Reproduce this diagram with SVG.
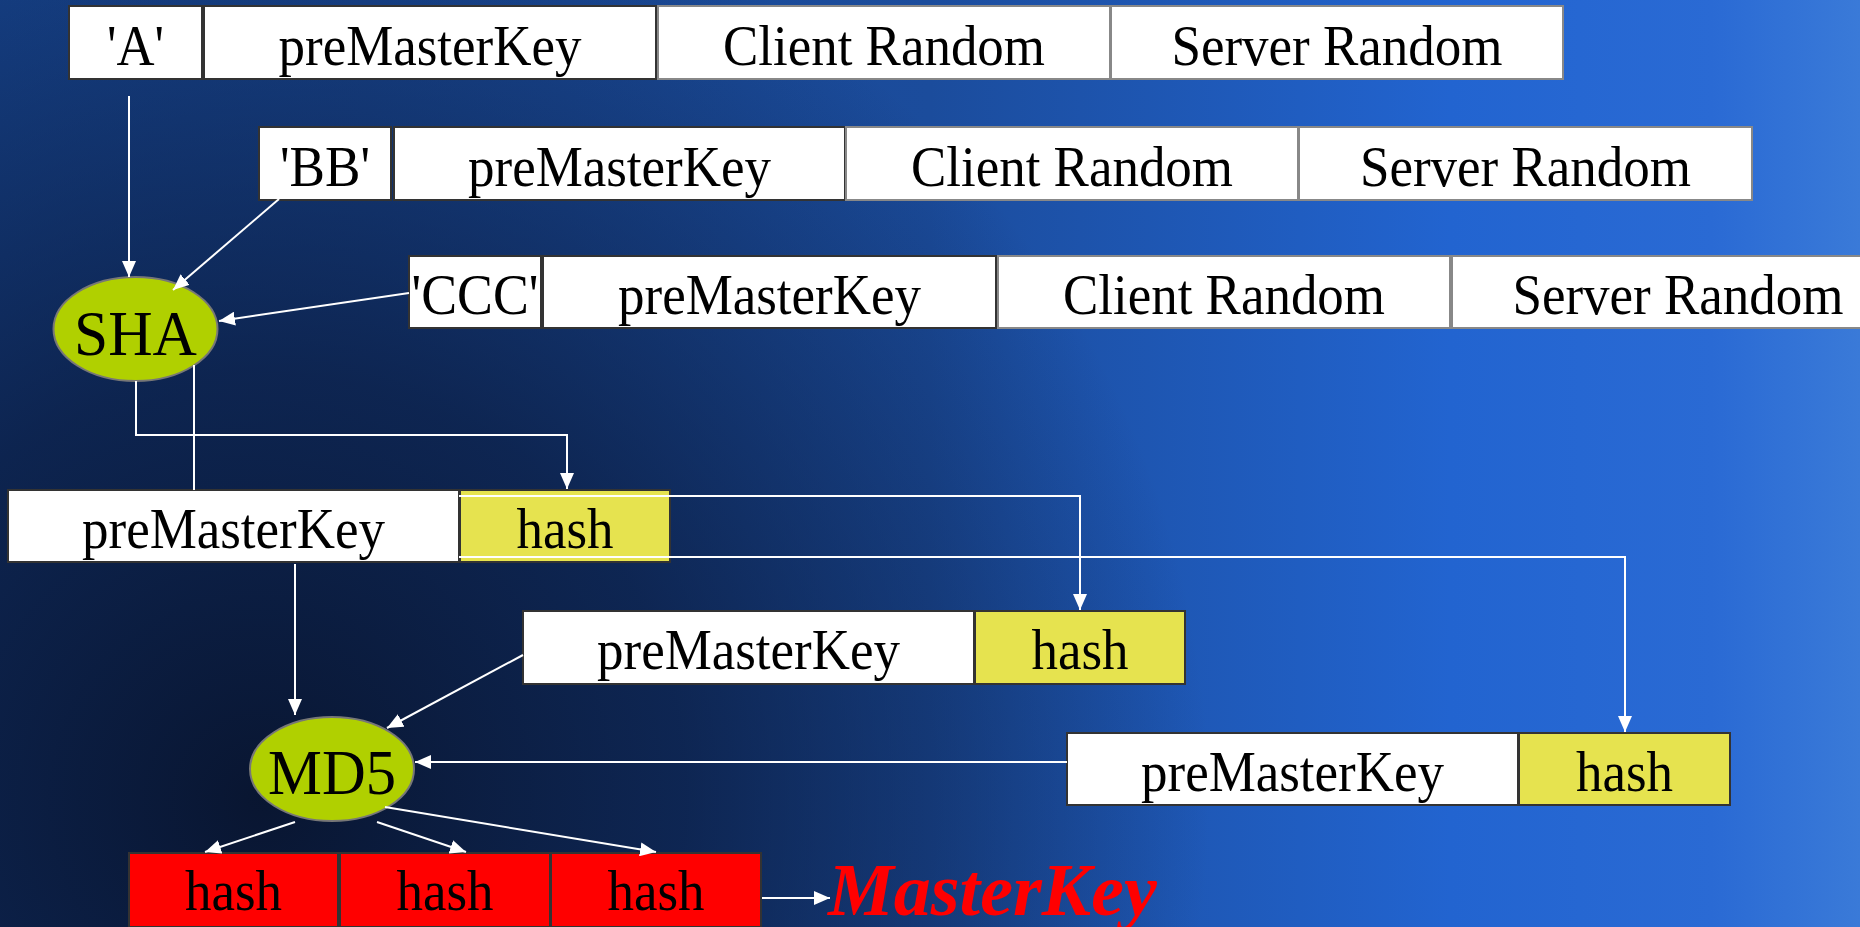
<svg xmlns="http://www.w3.org/2000/svg" width="1860" height="927" viewBox="0 0 1860 927">
  <defs>
    <linearGradient id="bgH" x1="0" y1="0" x2="1" y2="0">
      <stop offset="0" stop-color="#16428a"/>
      <stop offset="0.5" stop-color="#1b4c9c"/>
      <stop offset="0.78" stop-color="#2264d0"/>
      <stop offset="0.92" stop-color="#2a6ad4"/>
      <stop offset="1" stop-color="#3a7ad8"/>
    </linearGradient>
    <radialGradient id="bgDark" gradientUnits="userSpaceOnUse" cx="260" cy="800" r="950">
      <stop offset="0" stop-color="#08132c" stop-opacity="0.95"/>
      <stop offset="0.45" stop-color="#0a1a3c" stop-opacity="0.75"/>
      <stop offset="1" stop-color="#0a1a3c" stop-opacity="0"/>
    </radialGradient>
    <marker id="arr" markerUnits="userSpaceOnUse" markerWidth="16" markerHeight="14" refX="16" refY="7" orient="auto">
      <path d="M0,0 L16,7 L0,14 z" fill="#ffffff"/>
    </marker>
    <style>
      .t { font-family: "Liberation Serif", "Times New Roman", serif; font-size: 57px; fill: #000; text-anchor: middle; }
      .big { font-size: 63px; }
      .bw { fill: #ffffff; stroke: #333333; stroke-width: 2; }
      .bg { fill: #ffffff; stroke: #888888; stroke-width: 2; }
      .by { fill: #e6e34f; stroke: #333333; stroke-width: 2; }
      .br { fill: #ff0000; stroke: #333333; stroke-width: 2; }
      .el { fill: #b0d000; stroke: #777777; stroke-width: 2; }
      .c { fill: none; stroke: #ffffff; stroke-width: 2; }
      .mk { font-family: "Liberation Serif", "Times New Roman", serif; font-size: 74px; font-weight: bold; font-style: italic; fill: #ff0000; }
    </style>
  </defs>

  <rect x="0" y="0" width="1860" height="927" fill="url(#bgH)"/>
  <rect x="0" y="0" width="1860" height="927" fill="url(#bgDark)"/>

  <!-- Row 1 -->
  <g id="row1">
    <rect class="bw" x="69" y="6" width="133" height="73"/>
    <text class="t" x="135.5" y="65" textLength="57" lengthAdjust="spacingAndGlyphs">'A'</text>
    <rect class="bw" x="204" y="6" width="452" height="73"/>
    <text class="t" x="430" y="65" textLength="303" lengthAdjust="spacingAndGlyphs">preMasterKey</text>
    <rect class="bg" x="658" y="6" width="452" height="73"/>
    <text class="t" x="884" y="65" textLength="322" lengthAdjust="spacingAndGlyphs">Client Random</text>
    <rect class="bg" x="1111" y="6" width="452" height="73"/>
    <text class="t" x="1337" y="65" textLength="331" lengthAdjust="spacingAndGlyphs">Server Random</text>
  </g>

  <!-- Row 2 -->
  <g id="row2">
    <rect class="bw" x="259" y="127" width="132" height="73"/>
    <text class="t" x="325" y="186" textLength="90" lengthAdjust="spacingAndGlyphs">'BB'</text>
    <rect class="bw" x="394" y="127" width="451" height="73"/>
    <text class="t" x="619.5" y="186" textLength="303" lengthAdjust="spacingAndGlyphs">preMasterKey</text>
    <rect class="bg" x="846" y="127" width="452" height="73"/>
    <text class="t" x="1072" y="186" textLength="322" lengthAdjust="spacingAndGlyphs">Client Random</text>
    <rect class="bg" x="1299" y="127" width="453" height="73"/>
    <text class="t" x="1525.5" y="186" textLength="331" lengthAdjust="spacingAndGlyphs">Server Random</text>
  </g>

  <!-- Row 3 -->
  <g id="row3">
    <rect class="bw" x="409" y="256" width="132" height="72"/>
    <text class="t" x="475" y="314" textLength="127" lengthAdjust="spacingAndGlyphs">'CCC'</text>
    <rect class="bw" x="543" y="256" width="453" height="72"/>
    <text class="t" x="769.5" y="314" textLength="303" lengthAdjust="spacingAndGlyphs">preMasterKey</text>
    <rect class="bg" x="998" y="256" width="452" height="72"/>
    <text class="t" x="1224" y="314" textLength="322" lengthAdjust="spacingAndGlyphs">Client Random</text>
    <rect class="bg" x="1452" y="256" width="452" height="72"/>
    <text class="t" x="1678" y="314" textLength="331" lengthAdjust="spacingAndGlyphs">Server Random</text>
  </g>

  <!-- SHA -->
  <g id="sha">
    <ellipse class="el" cx="135.5" cy="329" rx="82" ry="52"/>
    <text class="t big" x="135.5" y="355" textLength="123" lengthAdjust="spacingAndGlyphs">SHA</text>
  </g>

  <!-- Row 4 -->
  <g id="row4">
    <rect class="bw" x="8" y="490" width="451" height="72"/>
    <text class="t" x="233.5" y="548" textLength="303" lengthAdjust="spacingAndGlyphs">preMasterKey</text>
    <rect class="by" x="460" y="490" width="210" height="72"/>
    <text class="t" x="565" y="548" textLength="97" lengthAdjust="spacingAndGlyphs">hash</text>
  </g>

  <!-- Row 5 -->
  <g id="row5">
    <rect class="bw" x="523" y="611" width="451" height="73"/>
    <text class="t" x="748.5" y="669" textLength="303" lengthAdjust="spacingAndGlyphs">preMasterKey</text>
    <rect class="by" x="975" y="611" width="210" height="73"/>
    <text class="t" x="1080" y="669" textLength="97" lengthAdjust="spacingAndGlyphs">hash</text>
  </g>

  <!-- Row 6 -->
  <g id="row6">
    <rect class="bw" x="1067" y="733" width="451" height="72"/>
    <text class="t" x="1292.5" y="791" textLength="303" lengthAdjust="spacingAndGlyphs">preMasterKey</text>
    <rect class="by" x="1519" y="733" width="211" height="72"/>
    <text class="t" x="1624.5" y="791" textLength="97" lengthAdjust="spacingAndGlyphs">hash</text>
  </g>

  <!-- MD5 -->
  <g id="md5">
    <ellipse class="el" cx="332" cy="769" rx="82" ry="52"/>
    <text class="t big" x="332" y="794" textLength="128" lengthAdjust="spacingAndGlyphs">MD5</text>
  </g>

  <!-- Result -->
  <g id="result">
    <rect class="br" x="129" y="853" width="209" height="74"/>
    <text class="t" x="233.5" y="910" textLength="97" lengthAdjust="spacingAndGlyphs">hash</text>
    <rect class="br" x="340" y="853" width="210" height="74"/>
    <text class="t" x="445" y="910" textLength="97" lengthAdjust="spacingAndGlyphs">hash</text>
    <rect class="br" x="551" y="853" width="210" height="74"/>
    <text class="t" x="656" y="910" textLength="97" lengthAdjust="spacingAndGlyphs">hash</text>
  </g>

  <g id="masterkey">
    <text class="mk" x="828" y="915">MasterKey</text>
  </g>

  <!-- Connectors -->
  <g id="connectors">
    <line class="c" x1="129" y1="96" x2="129" y2="277" marker-end="url(#arr)"/>
    <line class="c" x1="279" y1="199" x2="173" y2="290" marker-end="url(#arr)"/>
    <line class="c" x1="409" y1="293" x2="219" y2="321" marker-end="url(#arr)"/>
    <path class="c" d="M136,381 V435 H567 V489" marker-end="url(#arr)"/>
    <line class="c" x1="194" y1="365" x2="194" y2="490"/>
    <path class="c" d="M459,496 H1080 V610" marker-end="url(#arr)"/>
    <path class="c" d="M459,557 H1625 V732" marker-end="url(#arr)"/>
    <line class="c" x1="295" y1="564" x2="295" y2="715" marker-end="url(#arr)"/>
    <line class="c" x1="523" y1="655" x2="387" y2="728" marker-end="url(#arr)"/>
    <line class="c" x1="1067" y1="762" x2="415" y2="762" marker-end="url(#arr)"/>
    <line class="c" x1="295" y1="822" x2="205" y2="852" marker-end="url(#arr)"/>
    <line class="c" x1="377" y1="822" x2="466" y2="852" marker-end="url(#arr)"/>
    <line class="c" x1="385" y1="807" x2="656" y2="852" marker-end="url(#arr)"/>
    <line class="c" x1="762" y1="898" x2="830" y2="898" marker-end="url(#arr)"/>
  </g>
</svg>
